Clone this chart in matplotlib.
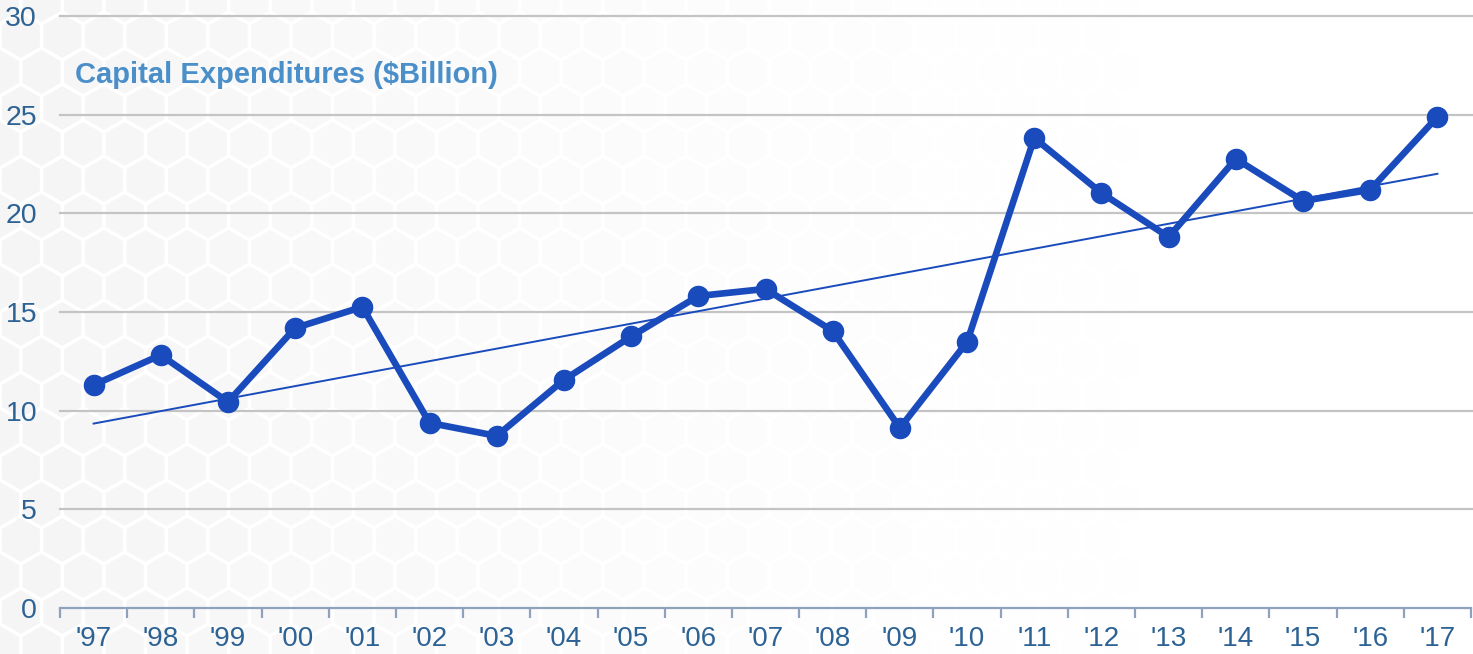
import matplotlib.pyplot as plt
import numpy as np
from matplotlib.collections import PolyCollection

# values
years = ["'97", "'98", "'99", "'00", "'01", "'02", "'03", "'04", "'05", "'06", "'07",
         "'08", "'09", "'10", "'11", "'12", "'13", "'14", "'15", "'16", "'17"]
capex = [11.30, 12.82, 10.44, 14.19, 15.26, 9.38, 8.72, 11.56, 13.76, 15.81, 16.17,
         14.04, 9.12, 13.48, 23.82, 21.03, 18.80, 22.76, 20.63, 21.19, 24.89]
yticks = [0, 5, 10, 15, 20, 25, 30]

plt.rcParams['font.family'] = ['Liberation Sans', 'DejaVu Sans']

fig = plt.figure(figsize=(14.73, 6.54), dpi=100)
fig.patch.set_facecolor('white')

# faint honeycomb background, fading out to the right
bg = fig.add_axes([0, 0, 1, 1], zorder=-10)
bg.set_xlim(0, 1473)
bg.set_ylim(654, 0)
bg.axis('off')
r = 24.0
w = np.sqrt(3) * r
polys = []
cols = []
ang = np.radians(np.arange(6) * 60 + 30)
for row in range(int(654 / (1.5 * r)) + 2):
    for col in range(int(1473 / w) + 2):
        cx = col * w + (w / 2 if row % 2 else 0)
        cy = row * 1.5 * r
        polys.append(np.column_stack([cx + (r - 2.0) * np.cos(ang), cy + (r - 2.0) * np.sin(ang)]))
        a = max(0.0, 1.0 - cx / 1150.0) ** 1.5
        cols.append((0.93, 0.93, 0.93, 0.55 * a))
bg.add_collection(PolyCollection(polys, facecolors=cols, edgecolors='none'))

ax = fig.add_axes([60 / 1473, 46 / 654, 1411 / 1473, 592 / 654])
ax.patch.set_alpha(0)
x = np.arange(len(years))

for yv in yticks[1:]:
    ax.axhline(yv, color='#c4c4c4', lw=1.6, zorder=1, clip_on=False,
               xmin=0, xmax=1.0014)

k, b = np.polyfit(x, capex, 1)
ax.plot(x, k * x + b, color='#1a4bbd', lw=1.4, zorder=3)
ax.plot(x, capex, color='#1a4bbd', lw=4.8, marker='o', markersize=14.5,
        solid_joinstyle='round', zorder=4)

ax.set_xlim(-0.5, len(years) - 0.5)
ax.set_ylim(0, 30)
ax.set_yticks(yticks)
ax.set_yticklabels([str(v) for v in yticks])
ax.set_xticks(x)
ax.set_xticklabels(years)
ax.set_xticks(np.arange(-0.5, len(years), 1.0), minor=True)
ax.tick_params(axis='x', which='major', length=0, pad=13, labelsize=20, labelcolor='#2d6294')
ax.tick_params(axis='x', which='minor', length=7, width=1.6, color='#8fa2bb', direction='out')
ax.tick_params(axis='y', length=0, pad=16.5, labelsize=20.5, labelcolor='#2d6294')

for s in ['top', 'right', 'left']:
    ax.spines[s].set_visible(False)
ax.spines['bottom'].set_color('#8fa2bb')
ax.spines['bottom'].set_linewidth(1.6)

fig.text(75 / 1473, 1 - 75 / 654, 'Capital Expenditures ($Billion)', fontsize=21,
         fontweight='bold', color='#4a8fc9', va='center', ha='left')

fig.savefig('out.png', dpi=100)
